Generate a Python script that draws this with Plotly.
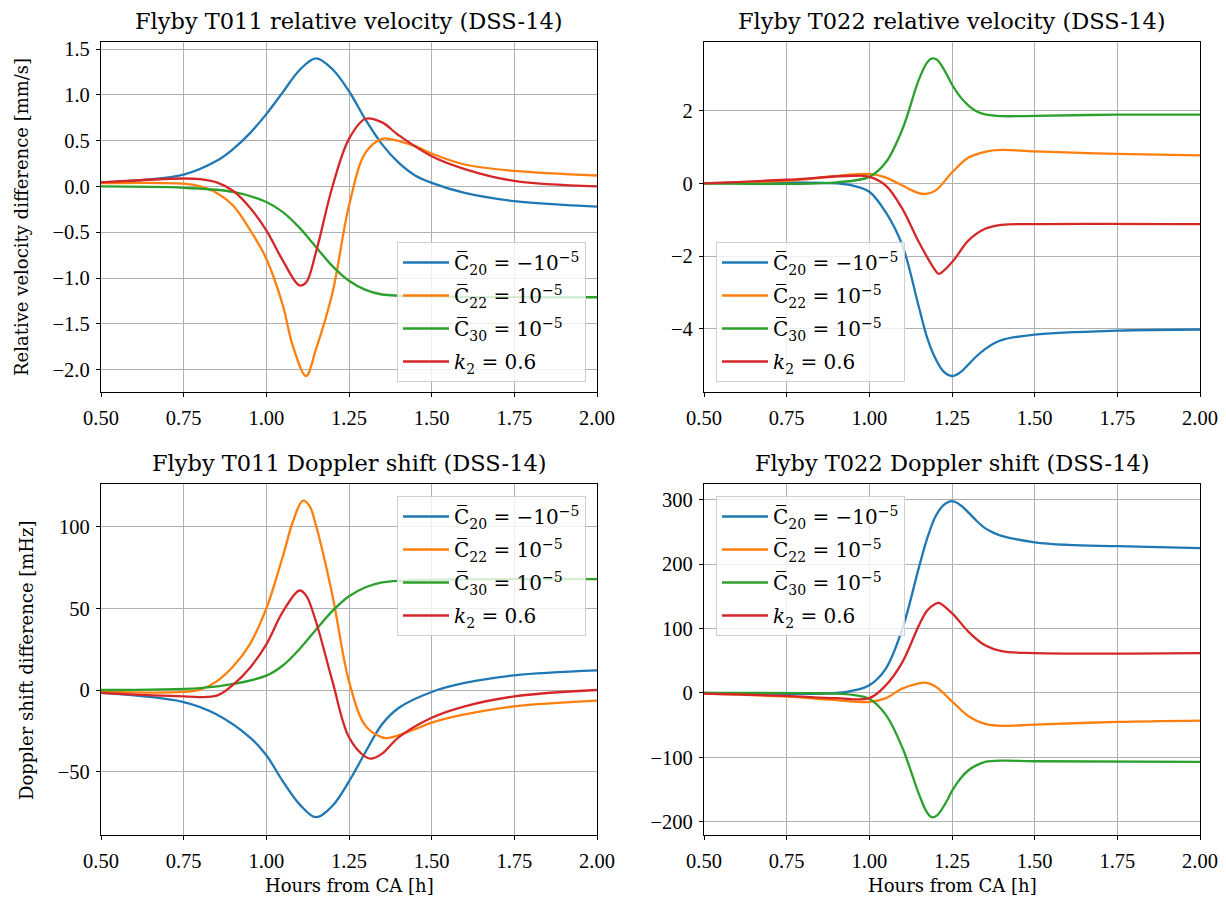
import plotly.graph_objects as go
from plotly.subplots import make_subplots

# ---------------- data ----------------
# Top-left: Flyby T011 relative velocity [mm/s]
tl_c20_x = [0.5, 0.75, 0.85, 0.9, 0.95, 1.0, 1.05, 1.1, 1.15, 1.2, 1.25, 1.3, 1.35, 1.4, 1.45, 1.5, 1.6, 1.75, 1.9, 2.0]
tl_c20_y = [0.044, 0.13, 0.28, 0.41, 0.58, 0.79, 1.03, 1.27, 1.40, 1.28, 1.04, 0.73, 0.46, 0.26, 0.12, 0.04, -0.07, -0.16, -0.20, -0.22]
tl_c22_x = [0.5, 0.75, 0.8, 0.85, 0.9, 0.95, 1.0, 1.05, 1.08, 1.12, 1.15, 1.2, 1.25, 1.3, 1.35, 1.37, 1.45, 1.5, 1.6, 1.75, 2.0]
tl_c22_y = [0.036, 0.03, 0.0, -0.07, -0.21, -0.47, -0.79, -1.30, -1.74, -2.07, -1.78, -1.16, -0.21, 0.37, 0.52, 0.52, 0.44, 0.36, 0.24, 0.17, 0.12]
tl_c30_x = [0.5, 0.75, 0.9, 1.0, 1.05, 1.1, 1.15, 1.2, 1.25, 1.3, 1.35, 1.5, 2.0]
tl_c30_y = [0.0, -0.015, -0.06, -0.17, -0.28, -0.45, -0.66, -0.87, -1.03, -1.13, -1.18, -1.20, -1.21]
tl_k2_x = [0.5, 0.75, 0.8, 0.85, 0.9, 0.95, 1.0, 1.05, 1.1, 1.12, 1.15, 1.2, 1.25, 1.3, 1.35, 1.4, 1.5, 1.6, 1.75, 2.0]
tl_k2_y = [0.044, 0.087, 0.08, 0.044, -0.05, -0.23, -0.48, -0.81, -1.08, -1.05, -0.72, 0.0, 0.52, 0.74, 0.70, 0.56, 0.33, 0.19, 0.06, 0.0]

# Top-right: Flyby T022 relative velocity [mm/s]
tr_c20_x = [0.5, 0.75, 0.9, 0.95, 1.0, 1.05, 1.1, 1.15, 1.175, 1.2, 1.225, 1.25, 1.275, 1.3, 1.325, 1.35, 1.375, 1.4, 1.5, 1.75, 2.0]
tr_c20_y = [0.0, 0.03, 0.0, -0.06, -0.23, -0.80, -1.71, -3.41, -4.25, -4.82, -5.18, -5.30, -5.20, -4.98, -4.75, -4.56, -4.41, -4.31, -4.16, -4.05, -4.02]
tr_c22_x = [0.5, 0.75, 1.0, 1.05, 1.1, 1.15, 1.17, 1.2, 1.25, 1.3, 1.35, 1.4, 1.5, 1.75, 2.0]
tr_c22_y = [0.0, 0.07, 0.26, 0.16, -0.06, -0.27, -0.29, -0.20, 0.30, 0.71, 0.87, 0.92, 0.88, 0.81, 0.77]
tr_c30_x = [0.5, 0.9, 1.0, 1.05, 1.1, 1.15, 1.175, 1.19, 1.205, 1.22, 1.235, 1.25, 1.275, 1.3, 1.325, 1.35, 1.4, 1.5, 1.75, 2.0]
tr_c30_y = [0.0, 0.03, 0.18, 0.58, 1.49, 2.86, 3.33, 3.44, 3.40, 3.22, 2.98, 2.72, 2.38, 2.14, 1.98, 1.90, 1.85, 1.86, 1.89, 1.89]
tr_k2_x = [0.5, 0.75, 0.95, 1.0, 1.05, 1.1, 1.15, 1.2, 1.21, 1.25, 1.3, 1.35, 1.4, 1.5, 2.0]
tr_k2_y = [0.0, 0.10, 0.21, 0.18, -0.06, -0.70, -1.62, -2.40, -2.49, -2.17, -1.57, -1.25, -1.14, -1.12, -1.12]

# Bottom-left: Flyby T011 Doppler shift [mHz]
bl_c20_x = [0.5, 0.75, 0.85, 0.95, 1.0, 1.05, 1.1, 1.15, 1.2, 1.25, 1.3, 1.35, 1.4, 1.5, 1.6, 1.75, 2.0]
bl_c20_y = [-1.8, -7.4, -15, -29, -40, -56, -70, -78, -71, -56, -38, -21, -11, -1.2, 4.3, 9, 12]
bl_c22_x = [0.5, 0.75, 0.8, 0.85, 0.9, 0.95, 1.0, 1.05, 1.08, 1.11, 1.13, 1.15, 1.2, 1.25, 1.3, 1.35, 1.37, 1.45, 1.5, 1.6, 1.75, 2.0]
bl_c22_y = [-1.2, -1.2, 0.2, 5.3, 14.5, 28, 50, 82, 103, 116, 113, 101, 58, 5.3, -22, -29, -29.4, -24, -20, -15, -10, -6.5]
bl_c30_x = [0.5, 0.8, 0.9, 1.0, 1.05, 1.1, 1.15, 1.2, 1.25, 1.3, 1.35, 1.45, 2.0]
bl_c30_y = [0.0, 1.2, 3.7, 8.8, 15, 25, 37, 48.5, 57.5, 63, 66, 67.4, 68]
bl_k2_x = [0.5, 0.75, 0.85, 0.9, 0.95, 1.0, 1.05, 1.1, 1.12, 1.15, 1.2, 1.25, 1.3, 1.32, 1.35, 1.4, 1.5, 1.6, 1.75, 2.0]
bl_k2_y = [-1.8, -3.9, -3.5, 3.3, 13.5, 28, 48, 61, 58, 42, 5.3, -29, -41, -42, -39, -29, -17, -10, -3.9, 0.0]

# Bottom-right: Flyby T022 Doppler shift [mHz]
br_c20_x = [0.5, 0.9, 0.95, 1.0, 1.05, 1.1, 1.15, 1.175, 1.2, 1.225, 1.25, 1.275, 1.3, 1.325, 1.35, 1.375, 1.4, 1.5, 1.6, 1.75, 2.0]
br_c20_y = [0, 0, 3.6, 12, 38, 100, 195, 240, 274, 292, 298, 292, 280, 267, 256, 249, 244, 234, 230, 228, 225]
br_c22_x = [0.5, 0.75, 0.9, 1.0, 1.05, 1.1, 1.15, 1.17, 1.2, 1.25, 1.3, 1.35, 1.4, 1.5, 1.75, 2.0]
br_c22_y = [-1, -5.7, -11, -14, -8, 7, 15, 16, 10, -13, -36, -48, -51, -49, -45, -43]
br_c30_x = [0.5, 0.9, 0.95, 1.0, 1.05, 1.1, 1.15, 1.175, 1.19, 1.205, 1.22, 1.235, 1.25, 1.275, 1.3, 1.325, 1.35, 1.4, 1.5, 2.0]
br_c30_y = [0, -1, -3, -9, -34, -85, -157, -186, -193, -190, -180, -167, -152, -133, -120, -112, -107, -105, -106, -107]
br_k2_x = [0.5, 0.75, 0.9, 1.0, 1.05, 1.1, 1.15, 1.175, 1.2, 1.21, 1.25, 1.3, 1.35, 1.4, 1.5, 2.0]
br_k2_y = [-1, -4.6, -8, -8, 12, 48, 105, 128, 138.5, 140, 124, 95, 74, 65, 62, 62]

series_names = [
    "C\u0305<sub>20</sub> = \u221210<sup>\u22125</sup>",
    "C\u0305<sub>22</sub> = 10<sup>\u22125</sup>",
    "C\u0305<sub>30</sub> = 10<sup>\u22125</sup>",
    "<i>k</i><sub>2</sub> = 0.6",
]
titles = [
    "Flyby T011 relative velocity (DSS-14)",
    "Flyby T022 relative velocity (DSS-14)",
    "Flyby T011 Doppler shift (DSS-14)",
    "Flyby T022 Doppler shift (DSS-14)",
]
x_title = "Hours from CA [h]"
y_title_vel = "Relative velocity difference [mm/s]"
y_title_dop = "Doppler shift difference [mHz]"

# ---------------- figure ----------------
colors = ["#1f77b4", "#ff7f0e", "#2ca02c", "#d62728"]
TXT = "DejaVu Serif"
NUM = "Liberation Serif"
W, H = 1226, 900

panels = [
    dict(row=1, col=1, legend="legend",
         data=[(tl_c20_x, tl_c20_y), (tl_c22_x, tl_c22_y), (tl_c30_x, tl_c30_y), (tl_k2_x, tl_k2_y)]),
    dict(row=1, col=2, legend="legend2",
         data=[(tr_c20_x, tr_c20_y), (tr_c22_x, tr_c22_y), (tr_c30_x, tr_c30_y), (tr_k2_x, tr_k2_y)]),
    dict(row=2, col=1, legend="legend3",
         data=[(bl_c20_x, bl_c20_y), (bl_c22_x, bl_c22_y), (bl_c30_x, bl_c30_y), (bl_k2_x, bl_k2_y)]),
    dict(row=2, col=2, legend="legend4",
         data=[(br_c20_x, br_c20_y), (br_c22_x, br_c22_y), (br_c30_x, br_c30_y), (br_k2_x, br_k2_y)]),
]

fig = make_subplots(rows=2, cols=2)
for pi, p in enumerate(panels):
    for i, (xs, ys) in enumerate(p["data"]):
        fig.add_trace(go.Scatter(
            x=xs, y=ys, mode="lines", name=series_names[i],
            line=dict(color=colors[i], width=2.3, shape="spline", smoothing=1.0),
            legend=p["legend"], legendgroup=f"p{pi}s{i}", showlegend=True,
        ), row=p["row"], col=p["col"])

# pixel boxes of the axes
boxes = {
    (1, 1): (101, 597, 42, 392),
    (1, 2): (704, 1200, 42, 392),
    (2, 1): (101, 597, 484, 835),
    (2, 2): (704, 1200, 484, 835),
}
yranges = {
    (1, 1): ([-2.245, 1.578], 0.5, ".1f"),
    (1, 2): ([-5.74, 3.89], 2, "d"),
    (2, 1): ([-88.9, 126.3], 50, "d"),
    (2, 2): ([-220.5, 324.5], 100, "d"),
}
axis_common = dict(
    showline=True, linecolor="black", linewidth=1.3, mirror=True,
    ticks="outside", ticklen=4, tickwidth=1.1, tickcolor="black",
    showgrid=True, gridcolor="#b0b0b0", gridwidth=1.1, zeroline=False,
    tickfont=dict(family=NUM, size=20.5, color="black"), automargin=False,
)
for (r, c), (x0, x1, y0, y1) in boxes.items():
    yr, dt, fmt = yranges[(r, c)]
    fig.update_xaxes(domain=[x0 / W, x1 / W], range=[0.5, 2.0], dtick=0.25, tick0=0.5,
                     tickformat=".2f", ticklabelstandoff=3, row=r, col=c, **axis_common)
    fig.update_yaxes(domain=[1 - y1 / H, 1 - y0 / H], range=yr, dtick=dt,
                     tickformat=fmt, ticklabelstandoff=2, row=r, col=c, **axis_common)

# subplot titles
for k, ((r, c), (x0, x1, y0, y1)) in enumerate(boxes.items()):
    fig.add_annotation(text=titles[k], xref="paper", yref="paper",
                       x=(x0 + x1) / 2 / W, y=1 - (y0 - 6) / H,
                       xanchor="center", yanchor="bottom", showarrow=False,
                       font=dict(family=TXT, size=22.5, color="black"))
# axis titles
for xc in (349, 952):
    fig.add_annotation(text=x_title, xref="paper", yref="paper",
                       x=xc / W, y=1 - 885 / H, xanchor="center", yanchor="middle",
                       showarrow=False, font=dict(family=TXT, size=18, color="black"))
fig.add_annotation(text=y_title_vel, xref="paper", yref="paper", textangle=-90,
                   x=22 / W, y=1 - 217 / H, xanchor="center", yanchor="middle",
                   showarrow=False, font=dict(family=TXT, size=18, color="black"))
fig.add_annotation(text=y_title_dop, xref="paper", yref="paper", textangle=-90,
                   x=26 / W, y=1 - 660 / H, xanchor="center", yanchor="middle",
                   showarrow=False, font=dict(family=TXT, size=18, color="black"))

leg_common = dict(bgcolor="rgba(255,255,255,0.8)", bordercolor="#d0d0d0", borderwidth=1,
                  font=dict(family=TXT, size=20, color="black"), itemwidth=46,
                  tracegroupgap=4)
fig.update_layout(
    width=W, height=H, margin=dict(l=0, r=0, t=0, b=0, autoexpand=False),
    paper_bgcolor="white", plot_bgcolor="white",
    font=dict(family=TXT, color="black"),
    legend=dict(x=586 / W, y=1 - 382 / H, xanchor="right", yanchor="bottom", **leg_common),
    legend2=dict(x=716 / W, y=1 - 382 / H, xanchor="left", yanchor="bottom", **leg_common),
    legend3=dict(x=586 / W, y=1 - 496 / H, xanchor="right", yanchor="top", **leg_common),
    legend4=dict(x=716 / W, y=1 - 496 / H, xanchor="left", yanchor="top", **leg_common),
)

fig.write_html("out.html", config={"displayModeBar": False},
               post_script="document.body.style.margin='0';document.body.style.overflow='hidden';")
